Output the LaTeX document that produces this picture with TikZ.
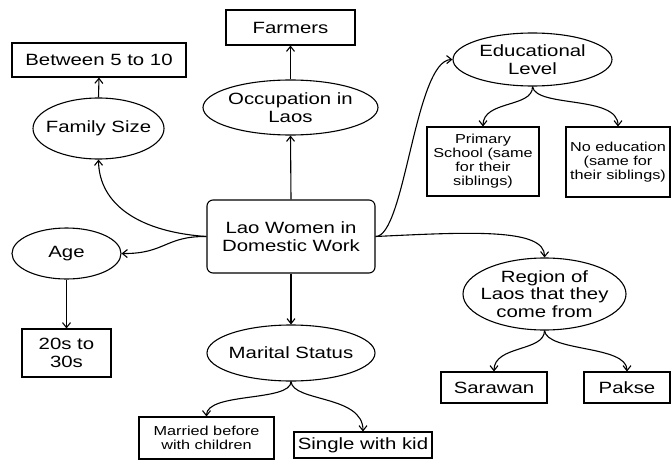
\documentclass[tikz,border=0pt]{standalone}
\usepackage{fontspec}
\setmainfont[FakeStretch=1.25]{Liberation Sans}
\usetikzlibrary{shapes.geometric,arrows.meta}
\begin{document}
\begin{tikzpicture}[x=1pt,y=-1pt,
  every node/.style={font=\fontsize{16.3}{17.5}\selectfont, align=center, inner sep=0pt},
  box/.style={draw, rectangle, line width=1.1pt},
  oval/.style={draw, ellipse, line width=1.1pt},
  small/.style={font=\fontsize{13}{14}\selectfont},
  link/.style={line width=1.1pt, -{Straight Barb[length=5pt,width=8pt]}}
]
\useasboundingbox (0,0) rectangle (671,460);

% central topic
\node[box, rounded corners=6pt, minimum width=168, minimum height=73] (c) at (291,236.5) {Lao Women in\\Domestic Work};

% occupation branch
\node[oval, minimum width=175, minimum height=55] (occ) at (290.5,107.5) {};
\node (occ-t) at (occ) {Occupation in\\Laos};
\node[box, minimum width=129, minimum height=35] (farm) at (290.5,27.5) {Farmers};

% family size branch
\node[oval, minimum width=131, minimum height=61] (fam) at (98.5,128.5) {};
\node (fam-t) at (fam) {Family Size};
\node[box, minimum width=174, minimum height=34] (btw) at (99,60) {Between 5 to 10};

% age branch
\node[oval, minimum width=109, minimum height=51] (age) at (66.5,253.5) {};
\node (age-t) at (age) {Age};
\node[box, minimum width=89, minimum height=48] (twen) at (66.5,353) {20s to\\30s};

% marital status branch
\node[oval, minimum width=168, minimum height=56] (mar) at (291,353) {};
\node (mar-t) at (mar) {Marital Status};
\node[box, small, minimum width=135, minimum height=42] (marr) at (206.5,438) {Married before\\with children};
\node[box, minimum width=138, minimum height=26] (sing) at (363,445) {Single with kid};

% education branch
\node[oval, minimum width=159, minimum height=53] (edu) at (532.5,59.5) {};
\node (edu-t) at (edu) {Educational\\Level};
\node[box, small, minimum width=112, minimum height=69] (prim) at (483,161.5) {Primary\\School (same\\for their\\siblings)};
\node[box, small, minimum width=104, minimum height=70] (noed) at (618,162) {No education\\(same for\\their siblings)};

% region branch
\node[oval, minimum width=163, minimum height=72] (reg) at (544.5,294) {};
\node (reg-t) at (reg) {Region of\\Laos that they\\come from};
\node[box, minimum width=106, minimum height=31] (sar) at (494,387.5) {Sarawan};
\node[box, minimum width=86, minimum height=31] (pak) at (627,387.5) {Pakse};

% connectors
\draw[link] (c.north) -- (occ.south);
\draw[link] (occ.north) -- (farm.south);
\draw[link] (fam.north) -- (btw.south);
\draw[link] (age.south) -- (twen.north);
\draw[link] (c.south) -- (mar.north);
\draw[link] (c.west) .. controls (140,232) and (99,205) .. (fam.south);
\draw[link] (c.west) .. controls (165,236) and (165,254) .. (age.east);
\draw[link] (c.east) .. controls (405,237) and (415,60) .. (edu.west);
\draw[link] (c.east) .. controls (470,232) and (545,228) .. (reg.north);

\draw[link] (edu.south) .. controls (533,108) and (483,100) .. (prim.north);
\draw[link] (edu.south) .. controls (536,108) and (618,95) .. (noed.north);
\draw[link] (reg.south) .. controls (544.5,352) and (494,345) .. (sar.north);
\draw[link] (reg.south) .. controls (547,352) and (627,345) .. (pak.north);
\draw[link] (mar.south) .. controls (291,402) and (206.5,392) .. (marr.north);
\draw[link] (mar.south) .. controls (293,402) and (363,395) .. (sing.north);
\end{tikzpicture}
\end{document}
